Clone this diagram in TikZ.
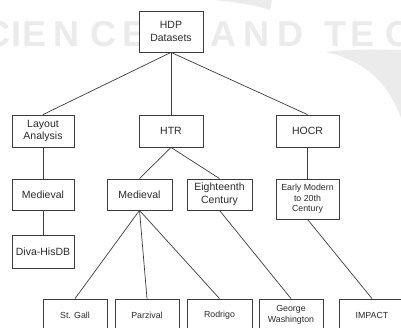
\documentclass[tikz,border=0pt]{standalone}
\usepackage{fontspec}
\setmainfont{Liberation Sans}
\definecolor{wm}{HTML}{EBEBEB}
\definecolor{edge}{HTML}{3A3A3A}
\definecolor{txt}{HTML}{2A2A2A}
\begin{document}
\begin{tikzpicture}[x=1pt,y=-1pt,
  box/.style={draw=edge,line width=0.8pt,fill=white,inner sep=0pt,align=center,text=txt,font=\fontsize{10.5}{12.5}\selectfont},
  smallbox/.style={box,font=\fontsize{8.8}{10.6}\selectfont},
  link/.style={draw=edge,line width=0.7pt},
  wmletter/.style={text=wm,anchor=base,inner sep=0pt,font=\fontsize{36}{36}\selectfont\bfseries}]
\useasboundingbox (0,0) rectangle (401,328);
\begin{scope}
\clip (0,0) rectangle (401,328);
% watermark
\fill[wm] (326,52) .. controls (360,48) and (385,50) .. (401,50) -- (401,118) .. controls (390,88) and (370,62) .. cycle;
\fill[wm] (213,0) .. controls (235,2) and (255,5) .. (270,10) -- (272,0) -- cycle;
\foreach \ch/\xx in {C/-3,I/17,E/35,N/66,C/103,E/135,A/223,N/256,D/290,T/335,E/363,C/398}
  \node[wmletter] at (\xx,47) {\ch};
% nodes
\node[box,minimum width=64pt,minimum height=41pt] (hdp) at (171,31.5) {HDP\\Datasets};
\node[box,minimum width=62pt,minimum height=32pt] (lay) at (43,131) {Layout\\Analysis};
\node[box,minimum width=64pt,minimum height=32pt] (htr) at (171,131) {HTR};
\node[box,minimum width=63pt,minimum height=32pt] (hocr) at (307.5,131) {HOCR};
\node[box,minimum width=62pt,minimum height=31pt] (med1) at (43,194.5) {Medieval};
\node[box,minimum width=65pt,minimum height=31pt] (med2) at (139.5,194.5) {Medieval};
\node[box,minimum width=65pt,minimum height=31pt] (eig) at (219.5,194.5) {Eighteenth\\Century};
\node[smallbox,minimum width=63pt,minimum height=40pt] (early) at (307.5,199) {Early Modern\\to 20th\\Century};
\node[box,minimum width=62pt,minimum height=33pt] (diva) at (43,251.5) {Diva-HisDB};
\node[smallbox,minimum width=64pt,minimum height=32pt] (stg) at (75,315) {St. Gall};
\node[smallbox,minimum width=64pt,minimum height=32pt] (par) at (147,315) {Parzival};
\node[smallbox,minimum width=65pt,minimum height=32pt] (rod) at (219.5,315) {Rodrigo};
\node[smallbox,minimum width=64pt,minimum height=32pt] (geo) at (291,315) {George\\Washington};
\node[smallbox,minimum width=66pt,minimum height=32pt] (imp) at (372,315) {IMPACT};
% edges
\draw[link] (hdp.south) -- (lay.north);
\draw[link] (hdp.south) -- (htr.north);
\draw[link] (hdp.south) -- (hocr.north);
\draw[link] (lay.south) -- (med1.north);
\draw[link] (med1.south) -- (diva.north);
\draw[link] (htr.south) -- (med2.north);
\draw[link] (htr.south) -- (eig.north);
\draw[link] (hocr.south) -- (early.north);
\draw[link] (med2.south) -- (stg.north);
\draw[link] (med2.south) -- (par.north);
\draw[link] (med2.south) -- (rod.north);
\draw[link] (eig.south) -- (geo.north);
\draw[link] (early.south) -- (imp.north);
\end{scope}
\end{tikzpicture}
\end{document}
